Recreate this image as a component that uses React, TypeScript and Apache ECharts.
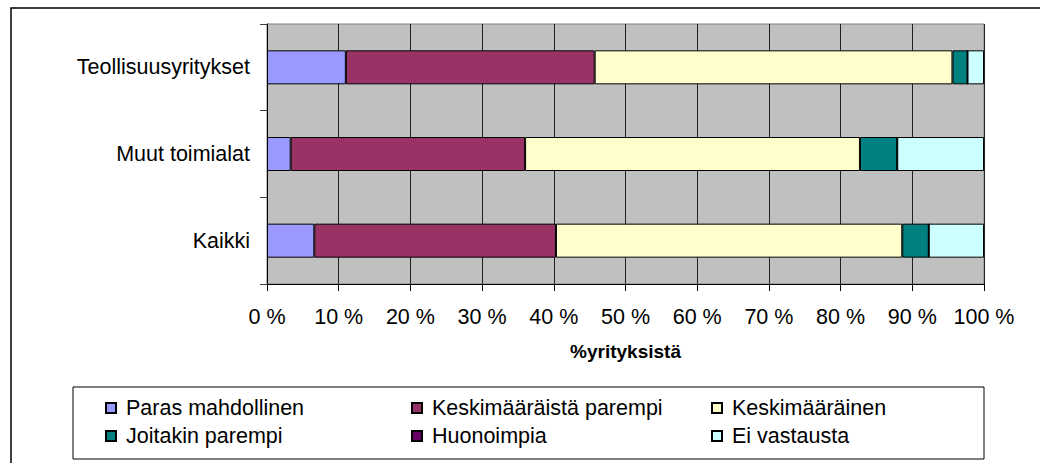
import React, { useEffect, useRef } from "react";
import * as echarts from "echarts";

const categories = ["Teollisuusyritykset", "Muut toimialat", "Kaikki"];
const seriesNames = [
  "Paras mahdollinen",
  "Keskimääräistä parempi",
  "Keskimääräinen",
  "Joitakin parempi",
  "Huonoimpia",
  "Ei vastausta",
];
const parasMahdollinen = [11.0, 3.3, 6.6];
const keskimaaraistaParempi = [34.7, 32.7, 33.7];
const keskimaarainen = [49.9, 46.7, 48.3];
const joitakinParempi = [2.1, 5.2, 3.7];
const huonoimpia = [0, 0, 0];
const eiVastausta = [2.3, 12.1, 7.7];
const seriesValues = [
  parasMahdollinen,
  keskimaaraistaParempi,
  keskimaarainen,
  joitakinParempi,
  huonoimpia,
  eiVastausta,
];
const colors = ["#9999FF", "#993366", "#FFFFCC", "#008080", "#660066", "#CCFFFF"];
const xTicks = [0, 10, 20, 30, 40, 50, 60, 70, 80, 90, 100];

const FONT = "'Liberation Sans', Arial, sans-serif";
const FS = 21.5;

export default function App() {
  const ref = useRef<HTMLDivElement>(null);
  useEffect(() => {
    if (!ref.current) return;
    const chart = echarts.init(ref.current, null, { renderer: "svg" });
    const legendText = { fontFamily: FONT, fontSize: FS, color: "#000", padding: [0, 0, 0, 5] };
    const legendCommon = {
      orient: "vertical" as const,
      top: 392,
      itemWidth: 10,
      itemHeight: 10,
      itemGap: 6,
      icon: "rect",
      textStyle: legendText,
      selectedMode: false,
    };
    chart.setOption({
      animation: false,
      backgroundColor: "#fff",
      graphic: [
        {
          type: "rect",
          shape: { x: 11, y: 8, width: 1100, height: 500 },
          style: { fill: "none", stroke: "#000", lineWidth: 1.5 },
          z: -1,
        },
        {
          type: "rect",
          shape: { x: 73, y: 387, width: 911, height: 72 },
          style: { fill: "#fff", stroke: "#000", lineWidth: 1 },
          z: -1,
        },
      ],
      grid: {
        left: 267,
        top: 24,
        width: 717,
        height: 260,
        show: true,
        backgroundColor: "#C0C0C0",
        borderColor: "#808080",
        borderWidth: 1,
      },
      legend: [
        { ...legendCommon, left: 100, data: [seriesNames[0], seriesNames[3]] },
        { ...legendCommon, left: 406, data: [seriesNames[1], seriesNames[4]] },
        { ...legendCommon, left: 706, data: [seriesNames[2], seriesNames[5]] },
      ],
      xAxis: {
        type: "value",
        min: xTicks[0],
        max: xTicks[xTicks.length - 1],
        interval: xTicks[1] - xTicks[0],
        axisLine: { show: true, lineStyle: { color: "#000", width: 1 } },
        axisTick: { show: true, length: 7, lineStyle: { color: "#000" } },
        splitLine: { show: true, lineStyle: { color: "#202020", width: 1 } },
        axisLabel: {
          formatter: "{value} %",
          fontFamily: FONT,
          fontSize: FS,
          color: "#000",
          margin: 22,
        },
        name: "%yrityksistä",
        nameLocation: "middle",
        nameGap: 58,
        nameTextStyle: { fontFamily: FONT, fontSize: 19, fontWeight: "bold", color: "#000" },
      },
      yAxis: {
        type: "category",
        data: categories,
        inverse: true,
        axisLine: { show: true, lineStyle: { color: "#000", width: 1 } },
        axisTick: { show: true, length: 7, alignWithLabel: false, lineStyle: { color: "#404040" } },
        splitLine: { show: false },
        axisLabel: { fontFamily: FONT, fontSize: FS, color: "#000", margin: 17 },
      },
      series: seriesNames.map((name, i) => ({
        name,
        type: "bar",
        stack: "total",
        barWidth: 34,
        data: seriesValues[i],
        itemStyle: { color: colors[i], borderColor: "#000", borderWidth: 1 },
        emphasis: { disabled: true },
      })),
    });
    return () => chart.dispose();
  }, []);
  return (
    <div
      ref={ref}
      style={{ position: "fixed", left: 0, top: 0, width: 1040, height: 463 }}
    />
  );
}
